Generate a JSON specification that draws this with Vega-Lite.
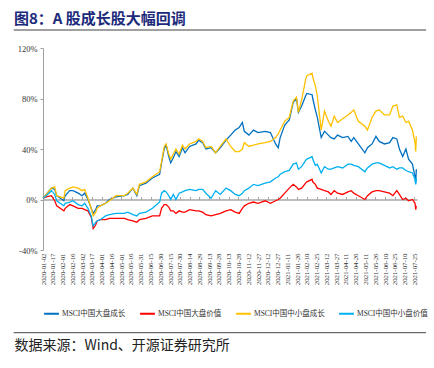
{
  "$schema": "https://vega.github.io/schema/vega-lite/v6.json",
  "width": 374,
  "height": 202,
  "autosize": {"type": "none"},
  "padding": {"left": 43, "top": 48, "right": 17, "bottom": 118},
  "background": "white",
  "config": {"view": {"stroke": null}, "font": "Liberation Serif"},
  "title": {
    "text": "图8：A 股成长股大幅回调",
    "anchor": "start",
    "frame": "group",
    "dx": -29,
    "offset": -13,
    "font": "Noto Sans CJK SC",
    "fontSize": 15,
    "fontWeight": "bold",
    "color": "#1b2a7a",
    "baseline": "bottom"
  },
  "datasets": {
    "main": [
      {"date": "2020-01-02", "MSCI中国大盘成长": 1, "MSCI中国大盘价值": 1, "MSCI中国中小盘成长": 1, "MSCI中国中小盘价值": 1},
      {"date": "2020-01-07", "MSCI中国大盘成长": 4, "MSCI中国大盘价值": 2, "MSCI中国中小盘成长": 4, "MSCI中国中小盘价值": 3},
      {"date": "2020-01-15", "MSCI中国大盘成长": 9, "MSCI中国大盘价值": 3, "MSCI中国中小盘成长": 9, "MSCI中国中小盘价值": 7},
      {"date": "2020-01-20", "MSCI中国大盘成长": 8, "MSCI中国大盘价值": -1, "MSCI中国中小盘成长": 10, "MSCI中国中小盘价值": 4},
      {"date": "2020-01-23", "MSCI中国大盘成长": 3, "MSCI中国大盘价值": -5, "MSCI中国中小盘成长": 3, "MSCI中国中小盘价值": -1},
      {"date": "2020-02-03", "MSCI中国大盘成长": -1, "MSCI中国大盘价值": -9, "MSCI中国中小盘成长": 1, "MSCI中国中小盘价值": -5},
      {"date": "2020-02-05", "MSCI中国大盘成长": 3, "MSCI中国大盘价值": -7, "MSCI中国中小盘成长": 7, "MSCI中国中小盘价值": -3},
      {"date": "2020-02-12", "MSCI中国大盘成长": 7, "MSCI中国大盘价值": -4, "MSCI中国中小盘成长": 9, "MSCI中国中小盘价值": -2},
      {"date": "2020-02-17", "MSCI中国大盘成长": 7, "MSCI中国大盘价值": -5, "MSCI中国中小盘成长": 10, "MSCI中国中小盘价值": -1},
      {"date": "2020-02-25", "MSCI中国大盘成长": 5, "MSCI中国大盘价值": -7, "MSCI中国中小盘成长": 9, "MSCI中国中小盘价值": -4},
      {"date": "2020-03-02", "MSCI中国大盘成长": 3, "MSCI中国大盘价值": -7, "MSCI中国中小盘成长": 7, "MSCI中国中小盘价值": -5},
      {"date": "2020-03-06", "MSCI中国大盘成长": 5, "MSCI中国大盘价值": -8, "MSCI中国中小盘成长": 8, "MSCI中国中小盘价值": -3},
      {"date": "2020-03-11", "MSCI中国大盘成长": 0, "MSCI中国大盘价值": -9, "MSCI中国中小盘成长": 1, "MSCI中国中小盘价值": -7},
      {"date": "2020-03-16", "MSCI中国大盘成长": -7, "MSCI中国大盘价值": -14, "MSCI中国中小盘成长": -7, "MSCI中国中小盘价值": -13},
      {"date": "2020-03-19", "MSCI中国大盘成长": -11, "MSCI中国大盘价值": -23, "MSCI中国中小盘成长": -13, "MSCI中国中小盘价值": -21},
      {"date": "2020-03-23", "MSCI中国大盘成长": -8, "MSCI中国大盘价值": -20, "MSCI中国中小盘成长": -10, "MSCI中国中小盘价值": -18},
      {"date": "2020-03-25", "MSCI中国大盘成长": -5, "MSCI中国大盘价值": -17, "MSCI中国中小盘成长": -7, "MSCI中国中小盘价值": -17},
      {"date": "2020-03-30", "MSCI中国大盘成长": -5, "MSCI中国大盘价值": -16, "MSCI中国中小盘成长": -5, "MSCI中国中小盘价值": -16},
      {"date": "2020-04-07", "MSCI中国大盘成长": -3, "MSCI中国大盘价值": -16, "MSCI中国中小盘成长": -3, "MSCI中国中小盘价值": -13},
      {"date": "2020-04-13", "MSCI中国大盘成长": 0, "MSCI中国大盘价值": -15, "MSCI中国中小盘成长": -1, "MSCI中国中小盘价值": -12},
      {"date": "2020-04-23", "MSCI中国大盘成长": 2, "MSCI中国大盘价值": -15, "MSCI中国中小盘成长": 3, "MSCI中国中小盘价值": -11},
      {"date": "2020-05-06", "MSCI中国大盘成长": 3, "MSCI中国大盘价值": -15, "MSCI中国中小盘成长": 3, "MSCI中国中小盘价值": -11},
      {"date": "2020-05-11", "MSCI中国大盘成长": 4, "MSCI中国大盘价值": -16, "MSCI中国中小盘成长": 5, "MSCI中国中小盘价值": -10},
      {"date": "2020-05-19", "MSCI中国大盘成长": 9, "MSCI中国大盘价值": -17, "MSCI中国中小盘成长": 9, "MSCI中国中小盘价值": -12},
      {"date": "2020-05-25", "MSCI中国大盘成长": 3, "MSCI中国大盘价值": -18, "MSCI中国中小盘成长": 4, "MSCI中国中小盘价值": -13},
      {"date": "2020-05-29", "MSCI中国大盘成长": 11, "MSCI中国大盘价值": -16, "MSCI中国中小盘成长": 12, "MSCI中国中小盘价值": -11},
      {"date": "2020-06-08", "MSCI中国大盘成长": 13, "MSCI中国大盘价值": -15, "MSCI中国中小盘成长": 14, "MSCI中国中小盘价值": -10},
      {"date": "2020-06-18", "MSCI中国大盘成长": 17, "MSCI中国大盘价值": -13, "MSCI中国中小盘成长": 18, "MSCI中国中小盘价值": -7},
      {"date": "2020-06-29", "MSCI中国大盘成长": 20, "MSCI中国大盘价值": -13, "MSCI中国中小盘成长": 22, "MSCI中国中小盘价值": -2},
      {"date": "2020-07-02", "MSCI中国大盘成长": 29, "MSCI中国大盘价值": -7, "MSCI中国中小盘成长": 30, "MSCI中国中小盘价值": 5},
      {"date": "2020-07-06", "MSCI中国大盘成长": 40, "MSCI中国大盘价值": -4, "MSCI中国中小盘成长": 42, "MSCI中国中小盘价值": 7},
      {"date": "2020-07-09", "MSCI中国大盘成长": 43, "MSCI中国大盘价值": -4, "MSCI中国中小盘成长": 44, "MSCI中国中小盘价值": 6},
      {"date": "2020-07-13", "MSCI中国大盘成长": 34, "MSCI中国大盘价值": -6, "MSCI中国中小盘成长": 36, "MSCI中国中小盘价值": 3},
      {"date": "2020-07-16", "MSCI中国大盘成长": 29, "MSCI中国大盘价值": -9, "MSCI中国中小盘成长": 32, "MSCI中国中小盘价值": 0},
      {"date": "2020-07-20", "MSCI中国大盘成长": 33, "MSCI中国大盘价值": -9, "MSCI中国中小盘成长": 36, "MSCI中国中小盘价值": 4},
      {"date": "2020-07-24", "MSCI中国大盘成长": 38, "MSCI中国大盘价值": -11, "MSCI中国中小盘成长": 40, "MSCI中国中小盘价值": 0},
      {"date": "2020-07-29", "MSCI中国大盘成长": 34, "MSCI中国大盘价值": -9, "MSCI中国中小盘成长": 36, "MSCI中国中小盘价值": 5},
      {"date": "2020-08-03", "MSCI中国大盘成长": 41, "MSCI中国大盘价值": -10, "MSCI中国中小盘成长": 43, "MSCI中国中小盘价值": 6},
      {"date": "2020-08-07", "MSCI中国大盘成长": 37, "MSCI中国大盘价值": -10, "MSCI中国中小盘成长": 40, "MSCI中国中小盘价值": 7},
      {"date": "2020-08-14", "MSCI中国大盘成长": 42, "MSCI中国大盘价值": -8, "MSCI中国中小盘成长": 44, "MSCI中国中小盘价值": 8},
      {"date": "2020-08-24", "MSCI中国大盘成长": 44, "MSCI中国大盘价值": -9, "MSCI中国中小盘成长": 46, "MSCI中国中小盘价值": 7},
      {"date": "2020-08-28", "MSCI中国大盘成长": 47, "MSCI中国大盘价值": -9, "MSCI中国中小盘成长": 48, "MSCI中国中小盘价值": 8},
      {"date": "2020-09-03", "MSCI中国大盘成长": 45, "MSCI中国大盘价值": -10, "MSCI中国中小盘成长": 46, "MSCI中国中小盘价值": 8},
      {"date": "2020-09-08", "MSCI中国大盘成长": 40, "MSCI中国大盘价值": -12, "MSCI中国中小盘成长": 41, "MSCI中国中小盘价值": 5},
      {"date": "2020-09-16", "MSCI中国大盘成长": 41, "MSCI中国大盘价值": -13, "MSCI中国中小盘成长": 42, "MSCI中国中小盘价值": 1},
      {"date": "2020-09-23", "MSCI中国大盘成长": 37, "MSCI中国大盘价值": -12, "MSCI中国中小盘成长": 37, "MSCI中国中小盘价值": 7},
      {"date": "2020-09-30", "MSCI中国大盘成长": 41, "MSCI中国大盘价值": -11, "MSCI中国中小盘成长": 42, "MSCI中国中小盘价值": 4},
      {"date": "2020-10-09", "MSCI中国大盘成长": 47, "MSCI中国大盘价值": -9, "MSCI中国中小盘成长": 48, "MSCI中国中小盘价值": 9},
      {"date": "2020-10-16", "MSCI中国大盘成长": 51, "MSCI中国大盘价值": -8, "MSCI中国中小盘成长": 42, "MSCI中国中小盘价值": 7},
      {"date": "2020-10-23", "MSCI中国大盘成长": 55, "MSCI中国大盘价值": -10, "MSCI中国中小盘成长": 38, "MSCI中国中小盘价值": 4},
      {"date": "2020-10-29", "MSCI中国大盘成长": 57, "MSCI中国大盘价值": -11, "MSCI中国中小盘成长": 38, "MSCI中国中小盘价值": 3},
      {"date": "2020-11-03", "MSCI中国大盘成长": 61, "MSCI中国大盘价值": -7, "MSCI中国中小盘成长": 40, "MSCI中国中小盘价值": 5},
      {"date": "2020-11-06", "MSCI中国大盘成长": 54, "MSCI中国大盘价值": -5, "MSCI中国中小盘成长": 45, "MSCI中国中小盘价值": 7},
      {"date": "2020-11-13", "MSCI中国大盘成长": 51, "MSCI中国大盘价值": -3, "MSCI中国中小盘成长": 42, "MSCI中国中小盘价值": 9},
      {"date": "2020-11-20", "MSCI中国大盘成长": 55, "MSCI中国大盘价值": -2, "MSCI中国中小盘成长": 43, "MSCI中国中小盘价值": 12},
      {"date": "2020-11-27", "MSCI中国大盘成长": 53, "MSCI中国大盘价值": -3, "MSCI中国中小盘成长": 44, "MSCI中国中小盘价值": 11},
      {"date": "2020-12-08", "MSCI中国大盘成长": 54, "MSCI中国大盘价值": -1, "MSCI中国中小盘成长": 45, "MSCI中国中小盘价值": 13},
      {"date": "2020-12-16", "MSCI中国大盘成长": 53, "MSCI中国大盘价值": -3, "MSCI中国中小盘成长": 46, "MSCI中国中小盘价值": 14},
      {"date": "2020-12-24", "MSCI中国大盘成长": 44, "MSCI中国大盘价值": -1, "MSCI中国中小盘成长": 49, "MSCI中国中小盘价值": 17},
      {"date": "2020-12-28", "MSCI中国大盘成长": 41, "MSCI中国大盘价值": 0, "MSCI中国中小盘成长": 52, "MSCI中国中小盘价值": 18},
      {"date": "2020-12-31", "MSCI中国大盘成长": 49, "MSCI中国大盘价值": 1, "MSCI中国中小盘成长": 55, "MSCI中国中小盘价值": 20},
      {"date": "2021-01-07", "MSCI中国大盘成长": 59, "MSCI中国大盘价值": 5, "MSCI中国中小盘成长": 62, "MSCI中国中小盘价值": 22},
      {"date": "2021-01-14", "MSCI中国大盘成长": 63, "MSCI中国大盘价值": 9, "MSCI中国中小盘成长": 65, "MSCI中国中小盘价值": 23},
      {"date": "2021-01-20", "MSCI中国大盘成长": 77, "MSCI中国大盘价值": 12, "MSCI中国中小盘成长": 78, "MSCI中国中小盘价值": 28},
      {"date": "2021-01-25", "MSCI中国大盘成长": 80, "MSCI中国大盘价值": 10, "MSCI中国中小盘成长": 81, "MSCI中国中小盘价值": 29},
      {"date": "2021-01-28", "MSCI中国大盘成长": 69, "MSCI中国大盘价值": 8, "MSCI中国中小盘成长": 69, "MSCI中国中小盘价值": 24},
      {"date": "2021-02-02", "MSCI中国大盘成长": 74, "MSCI中国大盘价值": 9, "MSCI中国中小盘成长": 79, "MSCI中国中小盘价值": 26},
      {"date": "2021-02-08", "MSCI中国大盘成长": 82, "MSCI中国大盘价值": 13, "MSCI中国中小盘成长": 95, "MSCI中国中小盘价值": 31},
      {"date": "2021-02-10", "MSCI中国大盘成长": 84, "MSCI中国大盘价值": 14, "MSCI中国中小盘成长": 98, "MSCI中国中小盘价值": 32},
      {"date": "2021-02-18", "MSCI中国大盘成长": 83, "MSCI中国大盘价值": 16, "MSCI中国中小盘成长": 100, "MSCI中国中小盘价值": 34},
      {"date": "2021-02-19", "MSCI中国大盘成长": 80, "MSCI中国大盘价值": 14, "MSCI中国中小盘成长": 97, "MSCI中国中小盘价值": 32},
      {"date": "2021-02-23", "MSCI中国大盘成长": 71, "MSCI中国大盘价值": 12, "MSCI中国中小盘成长": 90, "MSCI中国中小盘价值": 27},
      {"date": "2021-02-26", "MSCI中国大盘成长": 65, "MSCI中国大盘价值": 9, "MSCI中国中小盘成长": 82, "MSCI中国中小盘价值": 28},
      {"date": "2021-03-04", "MSCI中国大盘成长": 49, "MSCI中国大盘价值": 8, "MSCI中国中小盘成长": 55, "MSCI中国中小盘价值": 21},
      {"date": "2021-03-09", "MSCI中国大盘成长": 54, "MSCI中国大盘价值": 7, "MSCI中国中小盘成长": 70, "MSCI中国中小盘价值": 26},
      {"date": "2021-03-15", "MSCI中国大盘成长": 51, "MSCI中国大盘价值": 6, "MSCI中国中小盘成长": 62, "MSCI中国中小盘价值": 24},
      {"date": "2021-03-19", "MSCI中国大盘成长": 49, "MSCI中国大盘价值": 4, "MSCI中国中小盘成长": 58, "MSCI中国中小盘价值": 24},
      {"date": "2021-03-24", "MSCI中国大盘成长": 48, "MSCI中国大盘价值": 7, "MSCI中国中小盘成长": 66, "MSCI中国中小盘价值": 25},
      {"date": "2021-03-29", "MSCI中国大盘成长": 51, "MSCI中国大盘价值": 5, "MSCI中国中小盘成长": 61, "MSCI中国中小盘价值": 26},
      {"date": "2021-04-06", "MSCI中国大盘成长": 49, "MSCI中国大盘价值": 4, "MSCI中国中小盘成长": 64, "MSCI中国中小盘价值": 25},
      {"date": "2021-04-14", "MSCI中国大盘成长": 50, "MSCI中国大盘价值": 6, "MSCI中国中小盘成长": 67, "MSCI中国中小盘价值": 28},
      {"date": "2021-04-19", "MSCI中国大盘成长": 46, "MSCI中国大盘价值": 7, "MSCI中国中小盘成长": 69, "MSCI中国中小盘价值": 28},
      {"date": "2021-04-23", "MSCI中国大盘成长": 49, "MSCI中国大盘价值": 5, "MSCI中国中小盘成长": 71, "MSCI中国中小盘价值": 27},
      {"date": "2021-04-30", "MSCI中国大盘成长": 44, "MSCI中国大盘价值": 3, "MSCI中国中小盘成长": 62, "MSCI中国中小盘价值": 26},
      {"date": "2021-05-10", "MSCI中国大盘成长": 37, "MSCI中国大盘价值": 0, "MSCI中国中小盘成长": 58, "MSCI中国中小盘价值": 22},
      {"date": "2021-05-14", "MSCI中国大盘成长": 41, "MSCI中国大盘价值": 3, "MSCI中国中小盘成长": 55, "MSCI中国中小盘价值": 25},
      {"date": "2021-05-21", "MSCI中国大盘成长": 44, "MSCI中国大盘价值": 6, "MSCI中国中小盘成长": 65, "MSCI中国中小盘价值": 28},
      {"date": "2021-05-27", "MSCI中国大盘成长": 50, "MSCI中国大盘价值": 7, "MSCI中国中小盘成长": 70, "MSCI中国中小盘价值": 29},
      {"date": "2021-06-01", "MSCI中国大盘成长": 46, "MSCI中国大盘价值": 7, "MSCI中国中小盘成长": 71, "MSCI中国中小盘价值": 29},
      {"date": "2021-06-09", "MSCI中国大盘成长": 44, "MSCI中国大盘价值": 6, "MSCI中国中小盘成长": 67, "MSCI中国中小盘价值": 27},
      {"date": "2021-06-17", "MSCI中国大盘成长": 45, "MSCI中国大盘价值": 5, "MSCI中国中小盘成长": 67, "MSCI中国中小盘价值": 25},
      {"date": "2021-06-22", "MSCI中国大盘成长": 49, "MSCI中国大盘价值": 3, "MSCI中国中小盘成长": 74, "MSCI中国中小盘价值": 26},
      {"date": "2021-06-28", "MSCI中国大盘成长": 48, "MSCI中国大盘价值": 7, "MSCI中国中小盘成长": 75, "MSCI中国中小盘价值": 24},
      {"date": "2021-07-02", "MSCI中国大盘成长": 40, "MSCI中国大盘价值": 4, "MSCI中国中小盘成长": 65, "MSCI中国中小盘价值": 25},
      {"date": "2021-07-07", "MSCI中国大盘成长": 34, "MSCI中国大盘价值": 0, "MSCI中国中小盘成长": 66, "MSCI中国中小盘价值": 25},
      {"date": "2021-07-12", "MSCI中国大盘成长": 40, "MSCI中国大盘价值": 1, "MSCI中国中小盘成长": 61, "MSCI中国中小盘价值": 23},
      {"date": "2021-07-16", "MSCI中国大盘成长": 32, "MSCI中国大盘价值": -1, "MSCI中国中小盘成长": 62, "MSCI中国中小盘价值": 22},
      {"date": "2021-07-22", "MSCI中国大盘成长": 28, "MSCI中国大盘价值": 0, "MSCI中国中小盘成长": 55, "MSCI中国中小盘价值": 21},
      {"date": "2021-07-26", "MSCI中国大盘成长": 18, "MSCI中国大盘价值": -3, "MSCI中国中小盘成长": 45, "MSCI中国中小盘价值": 16},
      {"date": "2021-07-27", "MSCI中国大盘成长": 13, "MSCI中国大盘价值": -8, "MSCI中国中小盘成长": 38, "MSCI中国中小盘价值": 12},
      {"date": "2021-07-28", "MSCI中国大盘成长": 24, "MSCI中国大盘价值": -5, "MSCI中国中小盘成长": 50, "MSCI中国中小盘价值": 17}
    ]
  },
  "layer": [
    {
      "data": {"name": "main"},
      "transform": [
        {"fold": ["MSCI中国大盘成长", "MSCI中国大盘价值", "MSCI中国中小盘成长", "MSCI中国中小盘价值"], "as": ["series", "value"]}
      ],
      "mark": {"type": "line", "strokeWidth": 1.3},
      "encoding": {
        "x": {
          "field": "date",
          "type": "temporal",
          "scale": {"domain": [{"year": 2020, "month": 1, "date": 2, "utc": true}, {"year": 2021, "month": 7, "date": 29, "utc": true}]},
          "axis": {
            "orient": "bottom",
            "domain": false,
            "ticks": false,
            "grid": false,
            "labelExpr": "utcFormat(datum.value, '%Y-%m-%d')",
            "labelAngle": 270,
            "labelFontSize": 6.8,
            "labelFont": "Liberation Serif",
            "labelColor": "#333333",
            "labelPadding": 3,
            "labelOverlap": false,
            "labelFlush": false,
            "labelBound": false,
            "values": [
              {"year": 2020, "month": 1, "date": 2, "utc": true},
              {"year": 2020, "month": 1, "date": 17, "utc": true},
              {"year": 2020, "month": 2, "date": 1, "utc": true},
              {"year": 2020, "month": 2, "date": 16, "utc": true},
              {"year": 2020, "month": 3, "date": 2, "utc": true},
              {"year": 2020, "month": 3, "date": 17, "utc": true},
              {"year": 2020, "month": 4, "date": 1, "utc": true},
              {"year": 2020, "month": 4, "date": 16, "utc": true},
              {"year": 2020, "month": 5, "date": 1, "utc": true},
              {"year": 2020, "month": 5, "date": 16, "utc": true},
              {"year": 2020, "month": 5, "date": 31, "utc": true},
              {"year": 2020, "month": 6, "date": 15, "utc": true},
              {"year": 2020, "month": 6, "date": 30, "utc": true},
              {"year": 2020, "month": 7, "date": 15, "utc": true},
              {"year": 2020, "month": 7, "date": 30, "utc": true},
              {"year": 2020, "month": 8, "date": 14, "utc": true},
              {"year": 2020, "month": 8, "date": 29, "utc": true},
              {"year": 2020, "month": 9, "date": 13, "utc": true},
              {"year": 2020, "month": 9, "date": 28, "utc": true},
              {"year": 2020, "month": 10, "date": 13, "utc": true},
              {"year": 2020, "month": 10, "date": 28, "utc": true},
              {"year": 2020, "month": 11, "date": 12, "utc": true},
              {"year": 2020, "month": 11, "date": 27, "utc": true},
              {"year": 2020, "month": 12, "date": 12, "utc": true},
              {"year": 2020, "month": 12, "date": 27, "utc": true},
              {"year": 2021, "month": 1, "date": 11, "utc": true},
              {"year": 2021, "month": 1, "date": 26, "utc": true},
              {"year": 2021, "month": 2, "date": 10, "utc": true},
              {"year": 2021, "month": 2, "date": 25, "utc": true},
              {"year": 2021, "month": 3, "date": 12, "utc": true},
              {"year": 2021, "month": 3, "date": 27, "utc": true},
              {"year": 2021, "month": 4, "date": 11, "utc": true},
              {"year": 2021, "month": 4, "date": 26, "utc": true},
              {"year": 2021, "month": 5, "date": 11, "utc": true},
              {"year": 2021, "month": 5, "date": 26, "utc": true},
              {"year": 2021, "month": 6, "date": 10, "utc": true},
              {"year": 2021, "month": 6, "date": 25, "utc": true},
              {"year": 2021, "month": 7, "date": 10, "utc": true},
              {"year": 2021, "month": 7, "date": 25, "utc": true}
            ],
            "title": "数据来源：Wind、开源证券研究所",
            "titleFont": "Noto Sans CJK SC",
            "titleFontSize": 14,
            "titleFontWeight": "normal",
            "titleColor": "#222222",
            "titleAnchor": "start",
            "titleAlign": "left",
            "titleBaseline": "middle",
            "titleX": -29,
            "titleY": 95
          }
        },
        "y": {
          "field": "value",
          "type": "quantitative",
          "scale": {"domain": [-40, 120], "nice": false, "zero": false},
          "axis": {
            "values": [-40, -20, 0, 20, 40, 60, 80, 100, 120],
            "labelExpr": "datum.value + '%'",
            "grid": false,
            "title": null,
            "domainColor": "#a0a0a0",
            "tickColor": "#a0a0a0",
            "tickSize": 3,
            "labelFont": "Liberation Serif",
            "labelFontSize": 8.5,
            "labelColor": "#333333",
            "labelPadding": 3
          }
        },
        "color": {
          "field": "series",
          "type": "nominal",
          "scale": {
            "domain": ["MSCI中国大盘成长", "MSCI中国大盘价值", "MSCI中国中小盘成长", "MSCI中国中小盘价值"],
            "range": ["#0070C0", "#FF0000", "#FFC000", "#00B0F0"]
          },
          "legend": {
            "orient": "none",
            "legendX": 0,
            "legendY": 257,
            "direction": "horizontal",
            "columns": 4,
            "title": null,
            "symbolType": "stroke",
            "symbolStrokeWidth": 2,
            "symbolSize": 220,
            "labelFont": "'Liberation Serif', 'Noto Sans CJK SC'",
            "labelFontSize": 7.5,
            "labelColor": "#333333",
            "labelOffset": 2,
            "columnPadding": 10
          }
        }
      }
    },
    {
      "data": {"values": [{}]},
      "mark": {"type": "rule", "color": "#a0a0a0", "strokeWidth": 2},
      "encoding": {
        "x": {
          "datum": {"year": 2019, "month": 11, "date": 18, "utc": true},
          "type": "temporal",
          "scale": {"domain": [{"year": 2020, "month": 1, "date": 2, "utc": true}, {"year": 2021, "month": 7, "date": 29, "utc": true}]},
          "axis": {
            "orient": "top",
            "offset": -151.5,
            "labels": false,
            "grid": false,
            "title": null,
            "domain": true,
            "domainColor": "#a6a6a6",
            "domainWidth": 1.5,
            "ticks": true,
            "tickColor": "#a6a6a6",
            "tickSize": 3,
            "values": [
              {"year": 2020, "month": 1, "date": 2, "utc": true},
              {"year": 2020, "month": 1, "date": 17, "utc": true},
              {"year": 2020, "month": 2, "date": 1, "utc": true},
              {"year": 2020, "month": 2, "date": 16, "utc": true},
              {"year": 2020, "month": 3, "date": 2, "utc": true},
              {"year": 2020, "month": 3, "date": 17, "utc": true},
              {"year": 2020, "month": 4, "date": 1, "utc": true},
              {"year": 2020, "month": 4, "date": 16, "utc": true},
              {"year": 2020, "month": 5, "date": 1, "utc": true},
              {"year": 2020, "month": 5, "date": 16, "utc": true},
              {"year": 2020, "month": 5, "date": 31, "utc": true},
              {"year": 2020, "month": 6, "date": 15, "utc": true},
              {"year": 2020, "month": 6, "date": 30, "utc": true},
              {"year": 2020, "month": 7, "date": 15, "utc": true},
              {"year": 2020, "month": 7, "date": 30, "utc": true},
              {"year": 2020, "month": 8, "date": 14, "utc": true},
              {"year": 2020, "month": 8, "date": 29, "utc": true},
              {"year": 2020, "month": 9, "date": 13, "utc": true},
              {"year": 2020, "month": 9, "date": 28, "utc": true},
              {"year": 2020, "month": 10, "date": 13, "utc": true},
              {"year": 2020, "month": 10, "date": 28, "utc": true},
              {"year": 2020, "month": 11, "date": 12, "utc": true},
              {"year": 2020, "month": 11, "date": 27, "utc": true},
              {"year": 2020, "month": 12, "date": 12, "utc": true},
              {"year": 2020, "month": 12, "date": 27, "utc": true},
              {"year": 2021, "month": 1, "date": 11, "utc": true},
              {"year": 2021, "month": 1, "date": 26, "utc": true},
              {"year": 2021, "month": 2, "date": 10, "utc": true},
              {"year": 2021, "month": 2, "date": 25, "utc": true},
              {"year": 2021, "month": 3, "date": 12, "utc": true},
              {"year": 2021, "month": 3, "date": 27, "utc": true},
              {"year": 2021, "month": 4, "date": 11, "utc": true},
              {"year": 2021, "month": 4, "date": 26, "utc": true},
              {"year": 2021, "month": 5, "date": 11, "utc": true},
              {"year": 2021, "month": 5, "date": 26, "utc": true},
              {"year": 2021, "month": 6, "date": 10, "utc": true},
              {"year": 2021, "month": 6, "date": 25, "utc": true},
              {"year": 2021, "month": 7, "date": 10, "utc": true},
              {"year": 2021, "month": 7, "date": 25, "utc": true}
            ]
          }
        },
        "x2": {"datum": {"year": 2021, "month": 8, "date": 12, "utc": true}},
        "y": {"datum": 134.3, "type": "quantitative", "scale": {"domain": [-40, 120], "nice": false, "zero": false}}
      }
    },
    {
      "data": {"values": [{}]},
      "mark": {"type": "rule", "color": "#444444", "strokeWidth": 1},
      "encoding": {
        "x": {
          "datum": {"year": 2019, "month": 11, "date": 18, "utc": true},
          "type": "temporal",
          "scale": {"domain": [{"year": 2020, "month": 1, "date": 2, "utc": true}, {"year": 2021, "month": 7, "date": 29, "utc": true}]},
          "axis": null
        },
        "x2": {"datum": {"year": 2021, "month": 8, "date": 12, "utc": true}},
        "y": {"datum": -105.5, "type": "quantitative", "scale": {"domain": [-40, 120], "nice": false, "zero": false}}
      }
    }
  ],
  "resolve": {"axis": {"x": "independent"}}
}
